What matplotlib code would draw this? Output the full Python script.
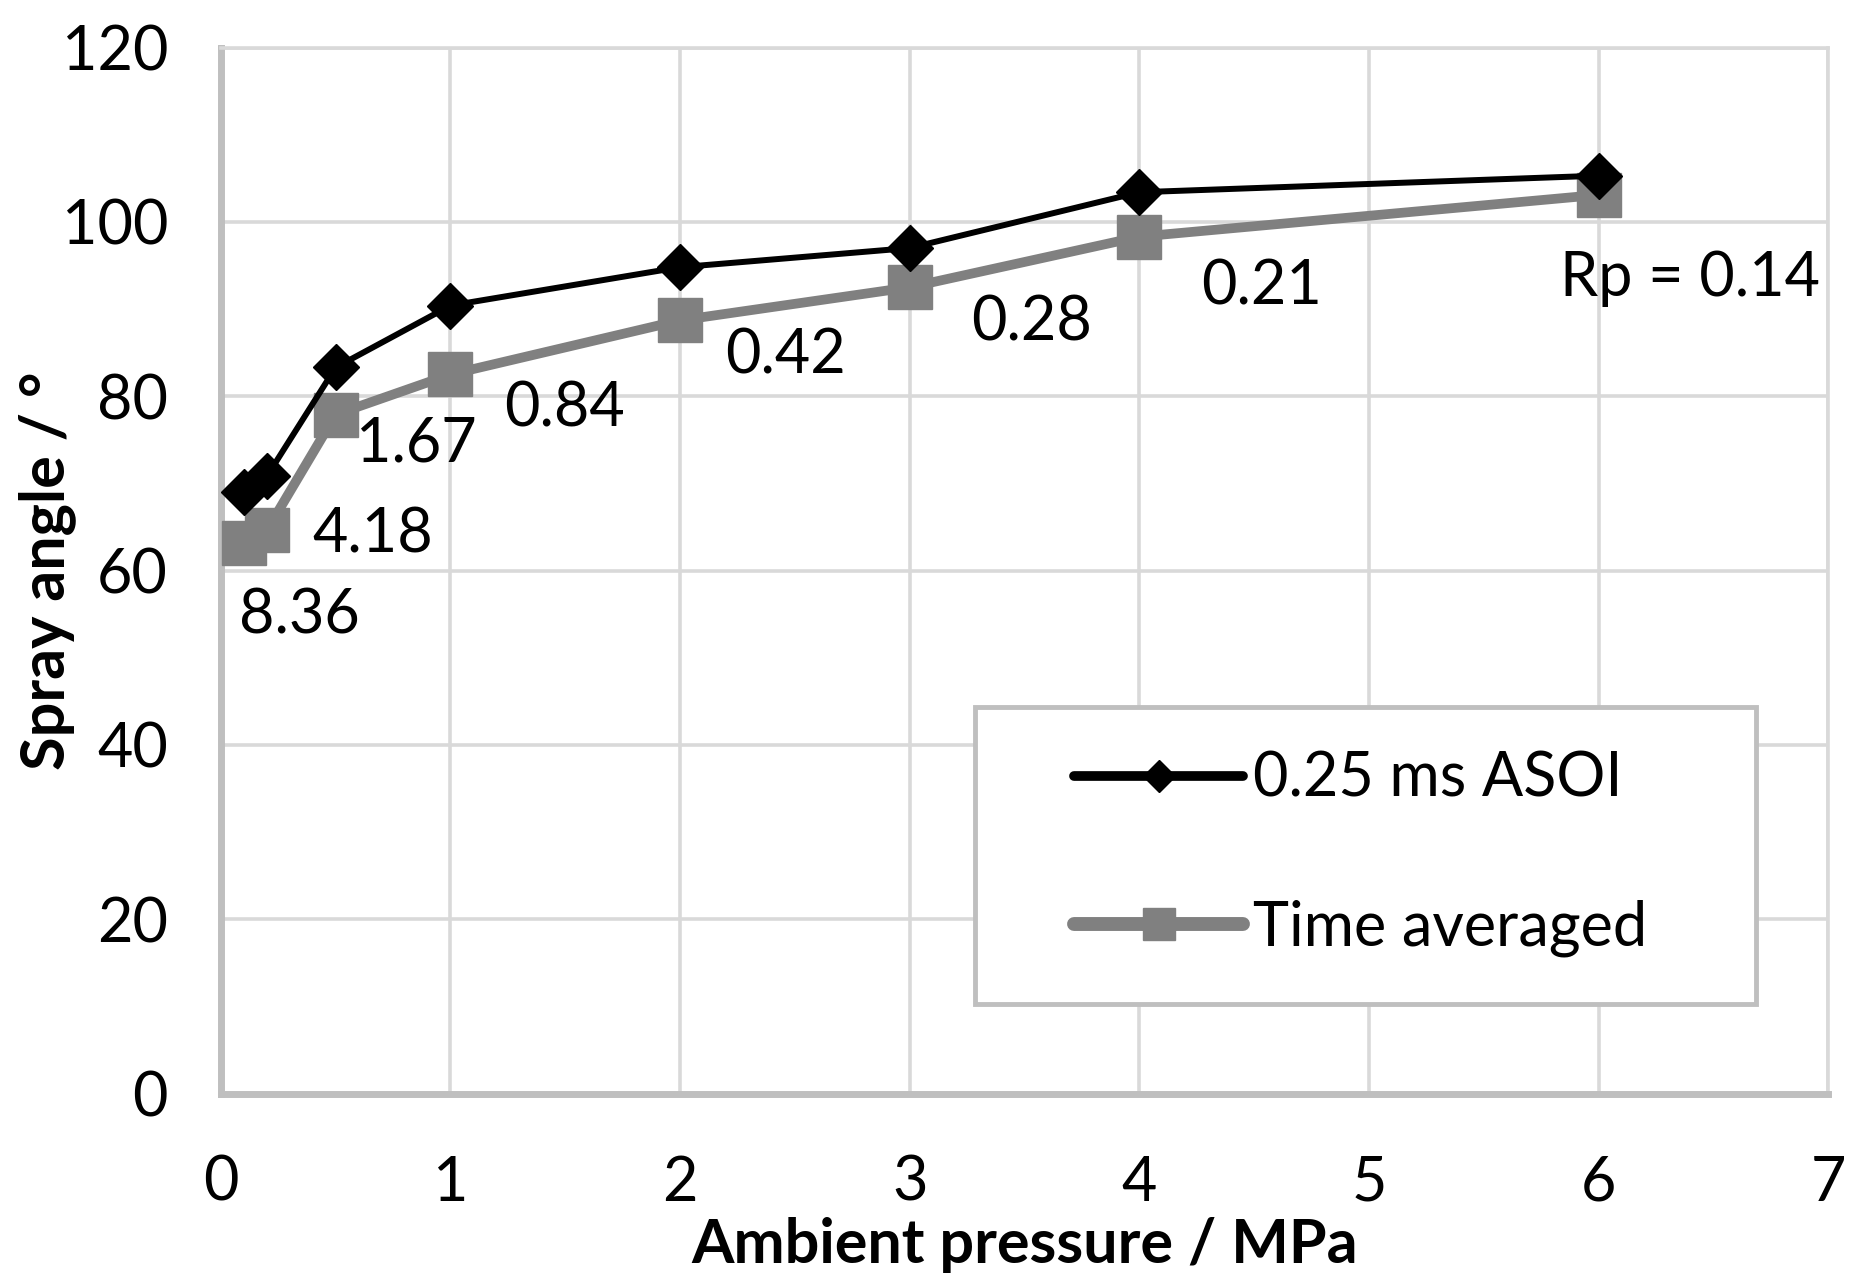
import matplotlib.pyplot as plt
from matplotlib.patches import Rectangle

# data
pressure = [0.1, 0.2, 0.5, 1, 2, 3, 4, 6]
angle_asoi = [69.0, 70.8, 83.3, 90.4, 94.8, 97.0, 103.4, 105.3]
angle_avg = [63.2, 64.6, 77.9, 82.5, 88.7, 92.5, 98.3, 103.1]
rp_labels = ['8.36', '4.18', '1.67', '0.84', '0.42', '0.28', '0.21', 'Rp = 0.14']

x_ticks = [0, 1, 2, 3, 4, 5, 6, 7]
y_ticks = [0, 20, 40, 60, 80, 100, 120]

# label offsets (points) from each grey marker
label_offsets = [(40, -53), (76, -3), (58, -21), (82, -25), (76, -26), (88, -26), (88, -36), (66, -60)]

plt.rcParams['font.family'] = ['Lato', 'DejaVu Sans']
fs = 44

fig = plt.figure(figsize=(18.56, 12.85), dpi=100)
ax = fig.add_axes([0.119, 0.149, 0.866, 0.814])

ax.plot(pressure, angle_avg, color='#808080', lw=7, marker='s', ms=32,
        label='Time averaged', zorder=3)
ax.plot(pressure, angle_asoi, color='black', lw=4.3, marker='D', ms=23,
        label='0.25 ms ASOI', zorder=4)

for x, y, txt, off in zip(pressure, angle_avg, rp_labels, label_offsets):
    ax.annotate(txt, (x, y), xytext=off, textcoords='offset points',
                ha='center', va='center', fontsize=fs, zorder=6)

ax.set_xlim(0, 7)
ax.set_ylim(0, 120)
ax.set_xticks(x_ticks)
ax.set_yticks(y_ticks)
ax.tick_params(length=0, labelsize=fs)
ax.tick_params(axis='y', pad=38)
ax.tick_params(axis='x', pad=44)
ax.grid(True, color='#d9d9d9', lw=2.6)
ax.set_axisbelow(True)

for s in ['top', 'right']:
    ax.spines[s].set_color('#d9d9d9')
    ax.spines[s].set_linewidth(2.6)
for s in ['left', 'bottom']:
    ax.spines[s].set_color('#bfbfbf')
    ax.spines[s].set_linewidth(5)

ax.set_xlabel('Ambient pressure / MPa', fontsize=fs, fontweight='bold')
ax.set_ylabel('Spray angle / °', fontsize=fs, fontweight='bold')
ax.xaxis.set_label_coords(0.5, -0.118)
ax.yaxis.set_label_coords(-0.09, 0.5)

# legend box
box = Rectangle((0.469, 0.086), 0.486, 0.284, transform=ax.transAxes,
                facecolor='white', edgecolor='#bfbfbf', lw=3.5, zorder=7)
ax.add_patch(box)
handles, labels = ax.get_legend_handles_labels()
leg = ax.legend(handles[::-1], labels[::-1], loc='center left',
                bbox_to_anchor=(0.531, 0.229), frameon=False, fontsize=fs,
                borderpad=0, borderaxespad=0, handlelength=2.76,
                handletextpad=0.17, labelspacing=1.5, markerscale=0.7)
leg.set_zorder(8)
for ln in leg.get_lines():
    ln.set_solid_capstyle('round')
leg.get_lines()[0].set_linewidth(7)
leg.get_lines()[1].set_linewidth(10)

fig.savefig('out.png', dpi=100)
